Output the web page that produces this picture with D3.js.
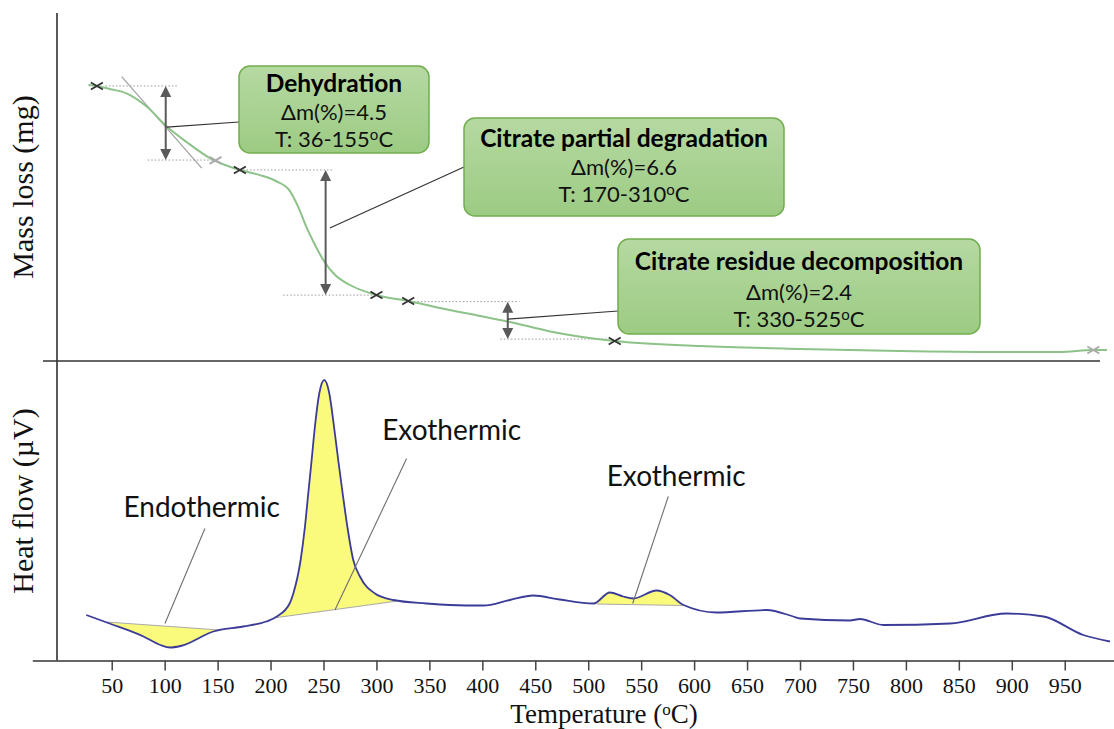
<!DOCTYPE html>
<html>
<head>
<meta charset="utf-8">
<script src="https://cdn.jsdelivr.net/npm/d3@7"></script>
<style>
body { margin: 0; background: #fff; }
</style>
</head>
<body>
<div id="chart"></div>
<script>
// TG curve: temperature (ºC) and mass loss (arbitrary units)
var tgTemp = [28, 36, 48, 64, 83, 102, 121, 143, 171, 190, 205, 218, 226, 234, 242, 251, 261, 275, 300, 330, 360, 398, 426, 464, 525, 606, 700, 794, 889, 945, 977, 990];
var tgMass = [0, 0.06, 0.25, 0.52, 1.35, 2.6, 3.58, 4.58, 5.31, 5.63, 6.0, 6.6, 7.6, 8.9, 10.0, 11.06, 11.88, 12.5, 13.13, 13.5, 13.94, 14.44, 14.81, 15.4, 16.0, 16.31, 16.5, 16.63, 16.69, 16.69, 16.56, 16.56];

// DTA curve: temperature (ºC) and heat flow (µV, relative)
var dtaTemp = [26, 48, 80, 96, 105, 115, 146, 174, 196, 206, 218, 221.5, 228.4, 232.5, 235.6, 238.8, 241.9, 246, 250.7, 255.5, 259.9, 263.9, 268.1, 272.5, 278.1, 284.4, 298.6, 315.9, 347, 369, 401, 426, 448, 473, 505, 520.5, 533, 542.5, 564.6, 577, 590, 621, 668.5, 693.6, 700, 747, 756.6, 778.6, 841.6, 895, 930, 967.5, 992.7];
var dtaHeat = [9.0, 7.3, 4.7, 3.0, 2.5, 2.8, 5.7, 6.7, 7.7, 8.7, 11.3, 13.3, 20, 26.7, 33.3, 40, 46.7, 53.3, 56, 53.3, 46.7, 40, 33.3, 26.7, 20, 16.7, 13.3, 12.0, 11.3, 11.0, 10.9, 12.0, 12.9, 12.1, 11.3, 13.5, 12.7, 12.3, 13.9, 13.0, 11.0, 9.5, 10.0, 8.7, 8.3, 7.9, 8.2, 7.0, 7.3, 9.3, 8.7, 5.0, 3.7];

var xTicks = [50, 100, 150, 200, 250, 300, 350, 400, 450, 500, 550, 600, 650, 700, 750, 800, 850, 900, 950];

// TG steps
var stepTitles = ["Dehydration", "Citrate partial degradation", "Citrate residue decomposition"];
var stepLoss = ["4.5", "6.6", "2.4"];
var stepRange = ["36-155", "170-310", "330-525"];
var stepArrowT = [101, 252, 424];
var stepTop = [0.06, 5.31, 13.54];
var stepBottom = [4.69, 13.13, 15.88];
var stepTopGuide = [[44, 113], [174, 259], [332, 435]];
var stepBottomGuide = [[84, 146], [212, 303], [417, 518]];
var stepLeaderT = [102, 256, 424];
var stepLeaderM = [2.63, 8.94, 14.63];

// markers on the TG curve
var markerTemp = [36, 171, 300, 330, 525];
var lightMarkerTemp = [148, 977];

// DTA peaks: baseline ends [T, heat]
var peakBase = [[[45, 7.6], [152, 6.0]], [[206, 8.5], [320, 11.8]], [[508, 11.2], [590, 10.9]]];
var peakLabels = ["Endothermic", "Exothermic", "Exothermic"];
var peakLabelPos = [[135, 28.7], [371, 44], [583, 34.8]];
var peakLeader = [[[138, 26.3], [100.3, 7.3]], [[328.5, 40.3], [260.8, 10]], [[575.6, 32.7], [542, 11.3]]];

var width = 1114, height = 729;
var serif = "'Liberation Serif', 'Times New Roman', serif";
var sans = "Lato, 'Open Sans', sans-serif";

var svg = d3.select("#chart").append("svg")
    .attr("width", width)
    .attr("height", height);

var defs = svg.append("defs");
var grad = defs.append("linearGradient").attr("id", "boxGrad")
    .attr("x1", 0).attr("y1", 0).attr("x2", 0).attr("y2", 1);
grad.append("stop").attr("offset", "0%").attr("stop-color", "#b6d9a2");
grad.append("stop").attr("offset", "100%").attr("stop-color", "#9ccb83");

var x = d3.scaleLinear().domain([-25, 997]).range([32.3, 1114.5]);
var yTG = d3.scaleLinear().domain([0, 18]).range([85, 373]);
var yDTA = d3.scaleLinear().domain([0, 56]).range([660, 380]);

function interp(ts, vs, t) {
    var i = d3.bisectRight(ts, t);
    if (i <= 0) return vs[0];
    if (i >= ts.length) return vs[vs.length - 1];
    var k = (t - ts[i - 1]) / (ts[i] - ts[i - 1]);
    return vs[i - 1] + k * (vs[i] - vs[i - 1]);
}

// axes frame
svg.append("line")
    .attr("x1", 57).attr("x2", 57)
    .attr("y1", 13).attr("y2", 660.5)
    .attr("stroke", "#222").attr("stroke-width", 1.5);

svg.append("line")
    .attr("x1", 43).attr("x2", 1100)
    .attr("y1", 361).attr("y2", 361)
    .attr("stroke", "#333").attr("stroke-width", 1.6);

var xAxis = svg.append("g")
    .attr("transform", "translate(0,660.5)")
    .call(d3.axisBottom(x).tickValues(xTicks).tickSize(10).tickPadding(7).tickSizeOuter(0));
xAxis.select(".domain").attr("stroke", "#333").attr("stroke-width", 1.5);
xAxis.selectAll(".tick line").attr("stroke", "#444").attr("stroke-width", 1.5);
xAxis.selectAll(".tick text")
    .style("font-family", serif)
    .style("font-size", "22px")
    .attr("fill", "#111");

// axis titles
var xt = svg.append("text")
    .attr("x", 604).attr("y", 723)
    .attr("text-anchor", "middle")
    .style("font-family", serif).style("font-size", "27px")
    .attr("fill", "#111");
xt.append("tspan").text("Temperature (");
xt.append("tspan").attr("dy", -8).style("font-size", "17px").text("o");
xt.append("tspan").attr("dy", 8).text("C)");

svg.append("text")
    .attr("transform", "translate(33,187) rotate(-90)")
    .attr("text-anchor", "middle")
    .style("font-family", serif).style("font-size", "30px")
    .attr("fill", "#111")
    .text("Mass loss (mg)");

svg.append("text")
    .attr("transform", "translate(33,501) rotate(-90)")
    .attr("text-anchor", "middle")
    .style("font-family", serif).style("font-size", "30px")
    .attr("fill", "#111")
    .text("Heat flow (\u00b5V)");

// ---------- TG panel ----------
var tgData = tgTemp.map(function(t, i) { return {t: t, v: tgMass[i]}; });

// dotted guides
stepTitles.forEach(function(s, i) {
    [[stepTopGuide[i], stepTop[i]], [stepBottomGuide[i], stepBottom[i]]].forEach(function(g) {
        svg.append("line")
            .attr("x1", x(g[0][0])).attr("x2", x(g[0][1]))
            .attr("y1", yTG(g[1])).attr("y2", yTG(g[1]))
            .attr("stroke", "#9a9a9a").attr("stroke-width", 1)
            .attr("stroke-dasharray", "1.5,2");
    });
});

// tangent line of the dehydration step
svg.append("line")
    .attr("x1", x(59.4)).attr("y1", yTG(-0.52))
    .attr("x2", x(135)).attr("y2", yTG(5.2))
    .attr("stroke", "#a0a0a0").attr("stroke-width", 1.2);

svg.append("path")
    .datum(tgData)
    .attr("fill", "none")
    .attr("stroke", "#8dc289")
    .attr("stroke-width", 2)
    .attr("d", d3.line().x(function(d) { return x(d.t); }).y(function(d) { return yTG(d.v); }).curve(d3.curveMonotoneX));

function cross(t, color) {
    var cx = x(t), cy = yTG(interp(tgTemp, tgMass, t));
    svg.append("path")
        .attr("d", "M" + (cx - 6) + "," + (cy - 3.5) + "L" + (cx + 6) + "," + (cy + 3.5) +
                   "M" + (cx - 6) + "," + (cy + 3.5) + "L" + (cx + 6) + "," + (cy - 3.5))
        .attr("stroke", color).attr("stroke-width", 1.8).attr("fill", "none");
}
markerTemp.forEach(function(t) { cross(t, "#333"); });
lightMarkerTemp.forEach(function(t) { cross(t, "#aaa"); });

// double arrows
stepTitles.forEach(function(s, i) {
    var ax = x(stepArrowT[i]), y1 = yTG(stepTop[i]), y2 = yTG(stepBottom[i]);
    svg.append("line")
        .attr("x1", ax).attr("x2", ax)
        .attr("y1", y1 + 8).attr("y2", y2 - 8)
        .attr("stroke", "#5a5a5a").attr("stroke-width", 2);
    svg.append("path")
        .attr("d", "M" + ax + "," + y1 + "L" + (ax - 5.5) + "," + (y1 + 11) + "L" + (ax + 5.5) + "," + (y1 + 11) + "Z" +
                   "M" + ax + "," + y2 + "L" + (ax - 5.5) + "," + (y2 - 11) + "L" + (ax + 5.5) + "," + (y2 - 11) + "Z")
        .attr("fill", "#5a5a5a");
});

// annotation boxes
var boxes = [
    {x0: 239, y0: 66, x1: 429, y1: 153, ly: 122, base: [25.7, 54, 81]},
    {x0: 464, y0: 118, x1: 784, y1: 216, ly: 167, base: [28.7, 57, 83.7]},
    {x0: 618, y0: 239, x1: 980, y1: 334, ly: 311, base: [31, 61, 87.7]}
];

boxes.forEach(function(b, i) {
    svg.append("line")
        .attr("x1", x(stepLeaderT[i])).attr("y1", yTG(stepLeaderM[i]))
        .attr("x2", b.x0).attr("y2", b.ly)
        .attr("stroke", "#333").attr("stroke-width", 1.2);

    svg.append("rect")
        .attr("x", b.x0).attr("y", b.y0)
        .attr("width", b.x1 - b.x0).attr("height", b.y1 - b.y0)
        .attr("rx", 11)
        .attr("fill", "url(#boxGrad)")
        .attr("stroke", "#72ad4e").attr("stroke-width", 1.5);

    var cx = (b.x0 + b.x1) / 2;
    svg.append("text")
        .attr("x", cx).attr("y", b.y0 + b.base[0])
        .attr("text-anchor", "middle")
        .style("font-family", sans).style("font-size", "24.5px").style("font-weight", "bold")
        .attr("fill", "#000")
        .text(stepTitles[i]);
    svg.append("text")
        .attr("x", cx).attr("y", b.y0 + b.base[1])
        .attr("text-anchor", "middle")
        .style("font-family", sans).style("font-size", "22px")
        .attr("fill", "#111")
        .text("\u0394m(%)=" + stepLoss[i]);
    var t3 = svg.append("text")
        .attr("x", cx).attr("y", b.y0 + b.base[2])
        .attr("text-anchor", "middle")
        .style("font-family", sans).style("font-size", "22px")
        .attr("fill", "#111");
    t3.append("tspan").text("T: " + stepRange[i]);
    t3.append("tspan").attr("dy", -7).style("font-size", "15px").text("o");
    t3.append("tspan").attr("dy", 7).text("C");
});

// ---------- DTA panel ----------
var dtaData = dtaTemp.map(function(t, i) { return {t: t, v: dtaHeat[i]}; });

peakBase.forEach(function(pb) {
    var t0 = pb[0][0], t1 = pb[1][0];
    var pts = [{t: t0, v: interp(dtaTemp, dtaHeat, t0)}]
        .concat(dtaData.filter(function(d) { return d.t > t0 && d.t < t1; }))
        .concat([{t: t1, v: interp(dtaTemp, dtaHeat, t1)}]);
    var base = d3.scaleLinear().domain([t0, t1]).range([pb[0][1], pb[1][1]]);
    svg.append("path")
        .datum(pts)
        .attr("fill", "#fafa7c")
        .attr("d", d3.area()
            .x(function(d) { return x(d.t); })
            .y0(function(d) { return yDTA(base(d.t)); })
            .y1(function(d) { return yDTA(d.v); })
            .curve(d3.curveMonotoneX));
    svg.append("line")
        .attr("x1", x(t0)).attr("y1", yDTA(pb[0][1]))
        .attr("x2", x(t1)).attr("y2", yDTA(pb[1][1]))
        .attr("stroke", "#aaa").attr("stroke-width", 1.2);
});

svg.append("path")
    .datum(dtaData)
    .attr("fill", "none")
    .attr("stroke", "#3b3b98")
    .attr("stroke-width", 1.8)
    .attr("d", d3.line().x(function(d) { return x(d.t); }).y(function(d) { return yDTA(d.v); }).curve(d3.curveMonotoneX));

peakLabels.forEach(function(lab, i) {
    var l = peakLeader[i];
    svg.append("line")
        .attr("x1", x(l[0][0])).attr("y1", yDTA(l[0][1]))
        .attr("x2", x(l[1][0])).attr("y2", yDTA(l[1][1]))
        .attr("stroke", "#6e6e6e").attr("stroke-width", 1.1);
    svg.append("text")
        .attr("x", x(peakLabelPos[i][0])).attr("y", yDTA(peakLabelPos[i][1]))
        .attr("text-anchor", "middle")
        .style("font-family", sans).style("font-size", "28px")
        .attr("fill", "#111")
        .text(lab);
});
</script>
</body>
</html>
